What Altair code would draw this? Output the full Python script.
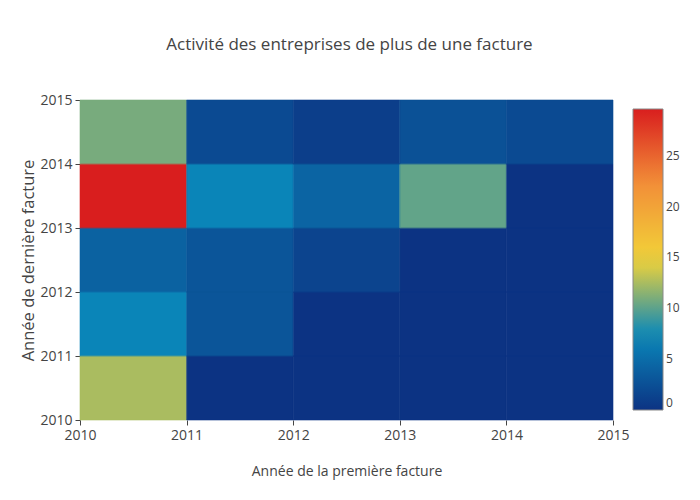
import altair as alt
import pandas as pd

first_years = [2010, 2011, 2012, 2013, 2014]
last_years = [2010, 2011, 2012, 2013, 2014]
# rows: last-invoice year (bottom to top), columns: first-invoice year
row_2010 = [12.5, 0, 0, 0, 0]
row_2011 = [7.1, 3, 0, 0, 0]
row_2012 = [4.1, 3, 1.5, 0, 0]
row_2013 = [29.6, 7.1, 4.3, 10.2, 0]
row_2014 = [10.9, 2, 1, 2.6, 2]
rows = [row_2010, row_2011, row_2012, row_2013, row_2014]
axis_ticks = [2010, 2011, 2012, 2013, 2014, 2015]
legend_ticks = [0, 5, 10, 15, 20, 25]

records = []
for yi, ly in enumerate(last_years):
    for xi, fy in enumerate(first_years):
        records.append({"x0": fy, "x1": fy + 1, "y0": ly, "y1": ly + 1,
                        "v": rows[yi][xi], "vs": rows[yi][xi]})
df = pd.DataFrame(records)

zmax = max(max(r) for r in rows)
portland = ["rgb(12,51,131)", "rgb(10,136,186)", "rgb(242,211,56)",
            "rgb(242,143,56)", "rgb(217,30,30)"]
stops = [0, zmax * 0.25, zmax * 0.5, zmax * 0.75, zmax]

font = "Open Sans"
axis_common = dict(values=axis_ticks, format="d", grid=False, domain=False,
                   tickColor="#444", tickSize=5, labelFont=font, labelFontSize=14,
                   labelColor="#444", titleFont=font, titleColor="#444",
                   titleFontWeight="normal", labelFlush=False)

xenc = alt.X("x0:Q", scale=alt.Scale(domain=[2010, 2015], nice=False, zero=False),
             axis=alt.Axis(title="Année de la première facture", labelPadding=3,
                           titlePadding=22, titleFontSize=14, **axis_common))
yenc = alt.Y("y0:Q", scale=alt.Scale(domain=[2010, 2015], nice=False, zero=False),
             axis=alt.Axis(title="Année de dernière facture", labelPadding=3,
                           titlePadding=3, titleFontSize=16.5, **axis_common))

base = alt.Chart(df)

cells = base.mark_rect().encode(
    x=xenc, x2="x1:Q", y=yenc, y2="y1:Q",
    color=alt.Color("v:Q",
                    scale=alt.Scale(domain=stops, range=portland, type="linear",
                                    interpolate="rgb"),
                    legend=alt.Legend(title=None, orient="none", direction="vertical",
                                      legendX=553, legendY=9,
                                      gradientLength=301, gradientThickness=30,
                                      gradientStrokeColor="#888", gradientStrokeWidth=1,
                                      values=legend_ticks, labelFont=font,
                                      labelFontSize=12, labelColor="#444",
                                      labelBaseline="middle",
                                      labelOffset=3, labelOverlap=False)),
)

seams = base.mark_rect(fillOpacity=0, strokeWidth=0.6).encode(
    x=xenc, x2="x1:Q", y=yenc, y2="y1:Q",
    stroke=alt.Stroke("vs:Q",
                      scale=alt.Scale(domain=stops, range=portland, type="linear",
                                      interpolate="rgb"),
                      legend=None),
)

chart = alt.layer(cells, seams).resolve_scale(stroke="independent").properties(
    width=533, height=320,
    padding={"left": 80, "top": 100, "right": 87, "bottom": 80},
    autosize="none",
    title=alt.TitleParams("Activité des entreprises de plus de une facture",
                          font=font, fontSize=17, color="#444",
                          fontWeight="normal", anchor="middle", dx=3,
                          offset=39),
    background="white",
).configure_view(stroke=None)

chart.save("out.html", embed_options={"renderer": "svg", "actions": False})
